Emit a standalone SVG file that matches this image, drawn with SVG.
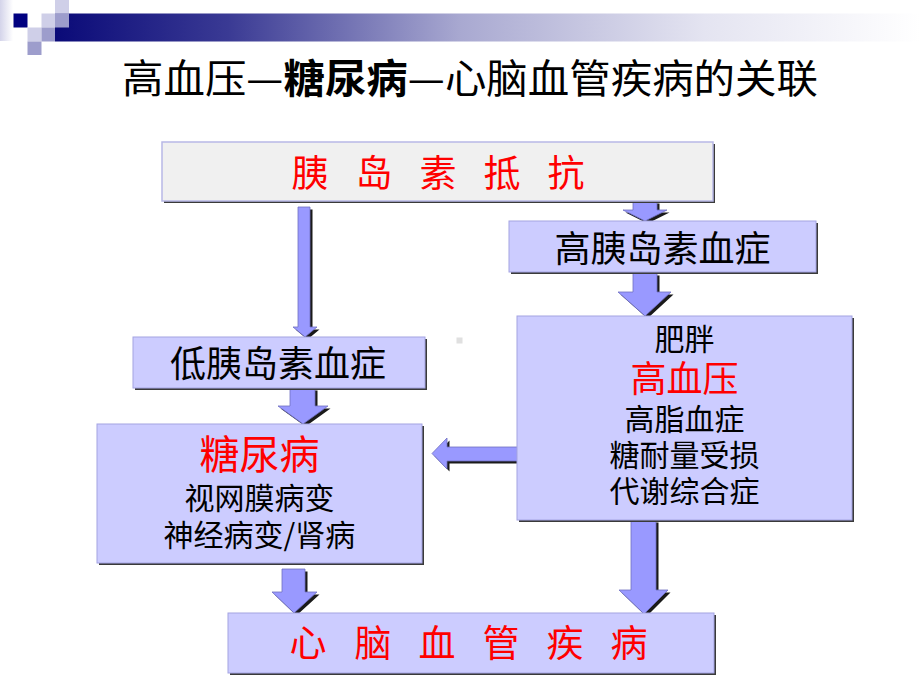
<svg xmlns="http://www.w3.org/2000/svg" width="920" height="690" viewBox="0 0 920 690">
<defs>
<linearGradient id="bar" x1="55" y1="0" x2="920" y2="0" gradientUnits="userSpaceOnUse">
<stop offset="0" stop-color="#0a0a78"/>
<stop offset="0.2" stop-color="#3a3a94"/>
<stop offset="0.47" stop-color="#a9a9d1"/>
<stop offset="0.75" stop-color="#e4e4f1"/>
<stop offset="1" stop-color="#ffffff"/>
</linearGradient>
<linearGradient id="side" x1="0" y1="0" x2="1" y2="0">
<stop offset="0" stop-color="#d4d4ea"/>
<stop offset="1" stop-color="#ffffff"/>
</linearGradient>
</defs>
<style>
.t{font-family:"Noto Sans CJK SC","Noto Sans CJK JP",sans-serif;text-anchor:middle}
.blk{fill:#000000;font-size:30px}
.blk36{fill:#000000;font-size:36px}
.red{fill:#ff0000}
.box{fill:#ccccff;stroke:#a4a4e2;stroke-width:1}
.boxg{fill:#f0f0f0;stroke:#b8b8e6;stroke-width:1.5}
.sh{fill:#3a3a3a}
.ar{fill:#9999ff;stroke:#6f6fc0;stroke-width:0.8}
.ash{fill:#1a1a1a}
.lt{fill:#cfcfe8}
.md{fill:#9d9dcc}
</style>
<rect width="920" height="690" fill="#ffffff"/>
<g id="header">
<rect x="0" y="0" width="13" height="41" fill="url(#side)"/>
<rect x="55" y="13.5" width="865" height="28" fill="url(#bar)"/>
<rect x="13.5" y="13.5" width="14" height="14" fill="#000080"/>
<rect x="55" y="0" width="14" height="13.5" class="lt"/>
<rect x="41.5" y="13.5" width="13.5" height="14" class="lt"/>
<rect x="55" y="13.5" width="14" height="14" class="md"/>
<rect x="27.5" y="27.5" width="14" height="14" class="lt"/>
<rect x="41.5" y="27.5" width="13.5" height="14" class="md"/>
<rect x="27.5" y="41.5" width="14" height="13.5" class="md"/>
</g>
<g id="title">
<text class="t" x="470" y="93" font-size="40" fill="#000" textLength="696" lengthAdjust="spacingAndGlyphs">高血压—<tspan font-weight="bold">糖尿病</tspan>—心脑血管疾病的关联</text>
</g>
<rect x="456.5" y="337.5" width="6" height="6" fill="#e0e0e0"/>
<g id="connectors">
<g transform="translate(2.5,2.5)">
<polygon class="ash" points="633,201 657,201 657,210 667,210 645,221 623,210 633,210"/>
<polygon class="ash" points="633,273 657,273 657,292 671,292 645,316 618,292 633,292"/>
<polygon class="ash" points="298,207 310,207 310,327 317,327 305,337 293,327 298,327"/>
<polygon class="ash" points="290,388 315,388 315,406 328,406 303,424 278,406 290,406"/>
<polygon class="ash" points="282,569 305,569 305,592 317,592 294,613 272,592 282,592"/>
<polygon class="ash" points="631,520 656,520 656,590 668,590 644,614 619,590 631,590"/>
<polygon class="ash" points="518,447 518,461 447,461 447,469 432,453.5 447,438 447,447"/>
</g>
<polygon class="ar" points="633,201 657,201 657,210 667,210 645,221 623,210 633,210"/>
<polygon class="ar" points="633,273 657,273 657,292 671,292 645,316 618,292 633,292"/>
<polygon class="ar" points="298,207 310,207 310,327 317,327 305,337 293,327 298,327"/>
<polygon class="ar" points="290,388 315,388 315,406 328,406 303,424 278,406 290,406"/>
<polygon class="ar" points="282,569 305,569 305,592 317,592 294,613 272,592 282,592"/>
<polygon class="ar" points="631,520 656,520 656,590 668,590 644,614 619,590 631,590"/>
<polygon class="ar" points="518,447 518,461 447,461 447,469 432,453.5 447,438 447,447"/>
</g>
<g id="n-resist">
<rect x="164" y="144" width="551" height="59" class="sh"/>
<rect x="162" y="142" width="551" height="59" class="boxg"/>
<text class="t red" font-size="37" y="186.5" x="310 342 374 406 438 470 502 534 566" xml:space="preserve">胰 岛 素 抵 抗</text>
</g>
<g id="n-hyper">
<rect x="511" y="223" width="307" height="51" class="sh"/>
<rect x="509" y="221" width="307" height="51" class="box"/>
<text class="t blk36" x="662.5" y="261.5">高胰岛素血症</text>
</g>
<g id="n-hypo">
<rect x="135" y="339" width="292" height="51" class="sh"/>
<rect x="133" y="337" width="292" height="51" class="box"/>
<text class="t blk36" x="278" y="376.5">低胰岛素血症</text>
</g>
<g id="n-obesity">
<rect x="519" y="318" width="335" height="204" class="sh"/>
<rect x="517" y="316" width="335" height="204" class="box"/>
<text class="t blk" x="684.5" y="350.4">肥胖</text>
<text class="t red" font-size="36" x="684.5" y="391.7">高血压</text>
<text class="t blk" x="684.5" y="430.4">高脂血症</text>
<text class="t blk" x="684.5" y="466.4">糖耐量受损</text>
<text class="t blk" x="684.5" y="502.4">代谢综合症</text>
</g>
<g id="n-diabetes">
<rect x="99" y="426" width="325" height="139" class="sh"/>
<rect x="97" y="424" width="325" height="139" class="box"/>
<text class="t red" font-size="40" x="259.5" y="469.2">糖尿病</text>
<text class="t blk" x="259.5" y="508.9">视网膜病变</text>
<text class="t blk" x="259.5" y="545.9">神经病变/肾病</text>
</g>
<g id="n-cvd">
<rect x="230" y="615" width="486" height="60" class="sh"/>
<rect x="228" y="613" width="486" height="60" class="box"/>
<text class="t red" font-size="37" y="656.6" x="308 340 373 405 437 469 501 533 565 597 629" xml:space="preserve">心 脑 血 管 疾 病</text>
</g>
</svg>
